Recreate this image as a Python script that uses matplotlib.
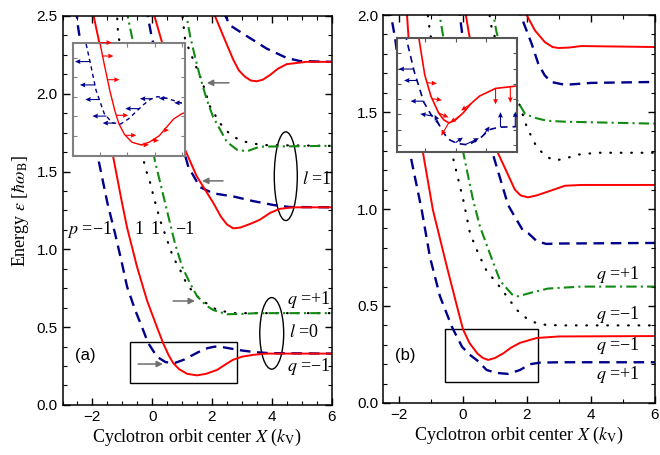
import numpy as np
import matplotlib
matplotlib.use('Agg')
import matplotlib.pyplot as plt
from matplotlib.patches import Ellipse, Rectangle
from matplotlib.ticker import MultipleLocator

plt.rcParams['font.family'] = ['Liberation Sans', 'DejaVu Sans']
plt.rcParams['mathtext.fontset'] = 'stix'

# ---- panel (a) curves: X, energy ----
a_blue0_x = [-2.55, -2.48, -1.78, -1.5, -1.24, -1.01, -0.84, -0.57, -0.34, -0.14, 0.16, 0.45, 0.76, 1.05, 1.3, 1.6, 1.85, 2.1, 2.4, 2.7, 3.0, 3.4, 3.9, 6.0]
a_blue0_e = [2.55, 2.43, 1.56, 1.30, 1.10, 0.91, 0.76, 0.61, 0.50, 0.40, 0.31, 0.275, 0.27, 0.29, 0.315, 0.345, 0.365, 0.375, 0.37, 0.36, 0.35, 0.34, 0.333, 0.33]
a_red0_x = [-2.02, -1.97, -1.77, -1.30, -1.01, -0.84, -0.51, -0.17, 0.16, 0.36, 0.55, 0.7, 0.9, 1.17, 1.5, 1.8, 2.17, 2.45, 2.7, 3.0, 3.38, 3.8, 6.0]
a_red0_e = [2.56, 2.51, 2.33, 1.59, 1.30, 1.14, 0.89, 0.67, 0.50, 0.40, 0.32, 0.27, 0.23, 0.20, 0.19, 0.20, 0.225, 0.26, 0.29, 0.31, 0.322, 0.33, 0.33]
a_black0_x = [-1.2, -1.17, -1.14, -0.24, -0.14, -0.02, 0.04, 0.15, 0.26, 0.5, 0.7, 0.93, 1.1, 1.26, 1.6, 2.17, 2.7, 3.2, 6.0]
a_black0_e = [2.55, 2.49, 2.38, 1.53, 1.47, 1.40, 1.34, 1.27, 1.19, 1.06, 0.95, 0.87, 0.80, 0.75, 0.68, 0.61, 0.59, 0.59, 0.59]
a_green0_x = [-0.84, -0.81, -0.67, 0.09, 0.43, 0.76, 1.0, 1.27, 1.5, 1.8, 2.04, 2.5, 3.0, 3.5, 6.0]
a_green0_e = [2.55, 2.49, 2.36, 1.57, 1.30, 1.04, 0.89, 0.78, 0.70, 0.64, 0.61, 0.583, 0.585, 0.59, 0.59]

a_blue1_x = [-0.18, -0.14, 0.0, 1.21, 1.6, 2.04, 2.71, 3.38, 4.05, 4.6, 6.0]
a_blue1_e = [2.56, 2.49, 2.35, 1.53, 1.40, 1.36, 1.34, 1.31, 1.285, 1.272, 1.27]
a_red1_x = [0.06, 0.09, 0.33, 1.1, 1.49, 2.04, 2.3, 2.5, 2.71, 2.95, 3.3, 3.6, 3.95, 4.27, 4.7, 6.0]
a_red1_e = [2.56, 2.49, 2.33, 1.64, 1.47, 1.30, 1.21, 1.16, 1.135, 1.14, 1.165, 1.19, 1.235, 1.26, 1.27, 1.27]
a_black1_x = [0.98, 1.02, 1.1, 1.37, 1.67, 1.93, 2.27, 2.6, 2.94, 3.34, 3.8, 6.0]
a_black1_e = [2.56, 2.49, 2.35, 2.22, 2.08, 1.92, 1.81, 1.74, 1.70, 1.68, 1.67, 1.665]
a_green1_x = [1.1, 1.16, 1.27, 1.43, 1.6, 1.83, 2.04, 2.27, 2.5, 2.84, 3.17, 3.6, 6.0]
a_green1_e = [2.56, 2.49, 2.37, 2.24, 2.11, 1.96, 1.85, 1.77, 1.69, 1.64, 1.63, 1.66, 1.665]

a_red2_x = [2.07, 2.1, 2.38, 2.71, 2.9, 3.1, 3.3, 3.49, 3.7, 3.94, 4.2, 4.5, 5.17, 6.0]
a_red2_e = [2.56, 2.5, 2.37, 2.22, 2.15, 2.11, 2.085, 2.08, 2.09, 2.12, 2.16, 2.19, 2.205, 2.205]
a_blue2_x = [2.4, 2.45, 2.6, 3.17, 3.83, 4.5, 4.94, 6.0]
a_blue2_e = [2.53, 2.5, 2.44, 2.37, 2.29, 2.23, 2.21, 2.205]

# ---- panel (b) curves ----
b_blue0_x = [-2.3, -2.22, -2.12, -1.66, -1.29, -1.03, -0.72, -0.34, -0.03, 0.2, 0.44, 0.74, 1.05, 1.41, 1.78, 2.1, 2.4, 3.0, 6.0]
b_blue0_e = [2.05, 1.97, 1.88, 1.29, 0.995, 0.75, 0.55, 0.39, 0.29, 0.25, 0.22, 0.17, 0.155, 0.15, 0.17, 0.20, 0.208, 0.21, 0.21]
b_red0_x = [-1.81, -1.75, -1.7, -1.25, -0.94, -0.5, -0.19, 0.0, 0.2, 0.45, 0.62, 0.79, 1.0, 1.26, 1.5, 1.78, 2.3, 3.0, 6.0]
b_red0_e = [2.05, 2.0, 1.88, 1.29, 0.995, 0.70, 0.50, 0.38, 0.31, 0.255, 0.232, 0.222, 0.232, 0.256, 0.285, 0.31, 0.335, 0.343, 0.345]
b_black0_x = [-1.15, -1.1, -1.03, -0.35, 0.01, 0.22, 0.48, 0.74, 1.05, 1.37, 1.68, 2.03, 2.4, 3.0, 6.0]
b_black0_e = [2.05, 2.0, 1.91, 1.29, 1.046, 0.875, 0.77, 0.68, 0.62, 0.55, 0.48, 0.43, 0.405, 0.40, 0.40]
b_green0_x = [-0.75, -0.72, -0.62, 0.01, 0.31, 0.53, 0.84, 1.16, 1.53, 1.72, 2.16, 2.66, 3.7, 6.0]
b_green0_e = [2.05, 1.99, 1.89, 1.29, 1.05, 0.91, 0.77, 0.63, 0.56, 0.55, 0.57, 0.59, 0.60, 0.60]

b_blue1_x = [-0.15, -0.1, -0.03, 0.94, 1.41, 1.62, 1.87, 2.04, 2.3, 2.6, 3.0, 6.0]
b_blue1_e = [2.05, 2.0, 1.91, 1.28, 1.02, 0.96, 0.89, 0.875, 0.835, 0.82, 0.822, 0.825]
b_red1_x = [0.06, 0.09, 0.19, 1.06, 1.37, 1.62, 1.8, 2.03, 2.3, 2.66, 3.19, 3.7, 6.0]
b_red1_e = [2.05, 2.0, 1.90, 1.30, 1.19, 1.10, 1.07, 1.06, 1.07, 1.09, 1.12, 1.124, 1.124]
b_black1_x = [0.78, 0.83, 0.9, 1.72, 2.0, 2.3, 2.6, 2.87, 3.2, 3.56, 4.2, 6.0]
b_black1_e = [2.05, 2.0, 1.93, 1.56, 1.42, 1.32, 1.27, 1.25, 1.26, 1.28, 1.29, 1.29]
b_green1_x = [0.9, 0.95, 1.05, 1.62, 1.94, 2.25, 2.62, 3.19, 6.0]
b_green1_e = [2.05, 2.0, 1.91, 1.58, 1.49, 1.47, 1.455, 1.45, 1.44]

b_blue2_x = [1.7, 1.8, 2.15, 2.35, 2.55, 2.75, 3.19, 4.0, 6.0]
b_blue2_e = [2.05, 2.0, 1.85, 1.75, 1.69, 1.655, 1.64, 1.65, 1.655]
b_red2_x = [1.97, 1.99, 2.25, 2.56, 2.8, 2.98, 3.3, 3.7, 6.0]
b_red2_e = [2.05, 2.0, 1.92, 1.86, 1.835, 1.83, 1.832, 1.84, 1.835]

# spin arrows in the insets (X on curve, angle in deg, length in inches)
a_red_arrow_x = [0.0, 0.1, 0.28, 0.6, 0.93, 1.5, 1.9, 2.34]
a_red_arrow_len = [0.12, 0.11, 0.12, 0.12, 0.11, 0.08, 0.07, 0.05]
a_blue_arrow_x = [-0.36, -0.18, -0.02, 0.24, 0.54, 1.44, 1.9, 2.45, 2.97]
a_blue_arrow_len = [0.15, 0.15, 0.14, 0.14, 0.12, 0.14, 0.12, 0.08, 0.07]

b_red_arrow_x = [0.075, 0.24, 0.45, 0.78, 1.15, 1.5, 2.3, 2.78]
b_red_arrow_ang = [-5, -8, -25, -120, -145, -145, -90, -90]
b_red_arrow_len = [0.10, 0.10, 0.11, 0.15, 0.12, 0.12, 0.16, 0.16]
b_blue_arrow_x = [-0.36, -0.25, -0.04, 0.24, 0.5, 1.0, 1.32, 1.9, 2.46, 2.94]
b_blue_arrow_ang = [180, 180, 180, 170, 115, 35, 25, 55, 90, 90]
b_blue_arrow_len = [0.15, 0.13, 0.13, 0.12, 0.13, 0.09, 0.15, 0.11, 0.15, 0.15]

RED = '#ff0000'
BLUE = '#00008b'
GREEN = '#138a13'
styles = {
    'red': dict(color=RED, ls='-', lw=1.4),
    'blue': dict(color=BLUE, ls=(0, (4.5, 2.8)), lw=1.7),
    'green': dict(color=GREEN, ls=(0, (5, 2, 1, 2)), lw=1.5),
    'black': dict(color='k', ls=(0, (0.3, 4.4)), lw=1.6, dash_capstyle='round'),
}

fig = plt.figure(figsize=(6.6, 4.55), dpi=100)
axa = fig.add_axes([0.0947, 0.110, 0.4076, 0.855])
axb = fig.add_axes([0.5803, 0.1143, 0.4121, 0.8527])

curves_a = [(a_blue0_x, a_blue0_e, 'blue'), (a_red0_x, a_red0_e, 'red'),
            (a_black0_x, a_black0_e, 'black'), (a_green0_x, a_green0_e, 'green'),
            (a_blue1_x, a_blue1_e, 'blue'), (a_red1_x, a_red1_e, 'red'),
            (a_black1_x, a_black1_e, 'black'), (a_green1_x, a_green1_e, 'green'),
            (a_blue2_x, a_blue2_e, 'blue'), (a_red2_x, a_red2_e, 'red')]
curves_b = [(b_blue0_x, b_blue0_e, 'blue'), (b_red0_x, b_red0_e, 'red'),
            (b_black0_x, b_black0_e, 'black'), (b_green0_x, b_green0_e, 'green'),
            (b_blue1_x, b_blue1_e, 'blue'), (b_red1_x, b_red1_e, 'red'),
            (b_black1_x, b_black1_e, 'black'), (b_green1_x, b_green1_e, 'green'),
            (b_blue2_x, b_blue2_e, 'blue'), (b_red2_x, b_red2_e, 'red')]

for x, e, s in curves_a:
    axa.plot(x, e, **styles[s])
for x, e, s in curves_b:
    axb.plot(x, e, **styles[s])

axa.set_xlim(-3, 6)
axa.set_ylim(0, 2.5)
axb.set_xlim(-2.5, 6)
axb.set_ylim(0, 2.0)

for ax in (axa, axb):
    ax.xaxis.set_major_locator(MultipleLocator(2))
    ax.yaxis.set_major_locator(MultipleLocator(0.5))
    ax.tick_params(which='both', direction='in', top=True, right=True, labelsize=11)
    ax.tick_params(which='major', length=5, width=1)
    ax.tick_params(which='minor', length=3, width=0.8)
    for sp in ax.spines.values():
        sp.set_linewidth(1.1)
    ax.set_xlabel('Cyclotron orbit center $X$ ($k_{\\rm V}$)', family='Liberation Serif',
                  fontsize=13, labelpad=2)
    ax.yaxis.set_major_formatter(matplotlib.ticker.FormatStrFormatter('%.1f'))
axa.xaxis.set_minor_locator(MultipleLocator(0.5))
axa.yaxis.set_minor_locator(MultipleLocator(0.125))
axb.xaxis.set_minor_locator(MultipleLocator(1))
axb.yaxis.set_minor_locator(MultipleLocator(0.1))
axa.set_ylabel('Energy $\\varepsilon$ [$\\hbar\\omega_{\\rm B}$]', family='Liberation Serif',
               fontsize=13, labelpad=4)

serif = dict(family='Liberation Serif', fontsize=13)

# panel (a) annotations
axa.add_patch(Ellipse((4.47, 1.47), 0.77, 0.57, fill=False, lw=1, ec='k'))
axa.add_patch(Ellipse((4.0, 0.46), 0.8, 0.46, fill=False, lw=1, ec='k'))
axa.text(5.0, 1.446, '$l$ =1', va='center', **serif)
axa.text(4.5, 0.675, '$q$ =+1', va='center', **serif)
axa.text(4.58, 0.463, '$l$ =0', va='center', **serif)
axa.text(4.5, 0.244, '$q$ =\u22121', va='center', **serif)
axa.text(-2.85, 1.13, '$p$ =\u22121', va='center', **serif)
axa.text(-0.44, 1.13, '1', va='center', ha='center', **serif)
axa.text(0.09, 1.13, '1', va='center', ha='center', **serif)
axa.text(0.76, 1.13, '\u22121', va='center', **serif)
axa.text(-2.24, 0.32, '(a)', va='center', ha='center', fontsize=12)
axa.add_patch(Rectangle((-0.74, 0.141), 3.58, 0.264, fill=False, lw=1, ec='k'))

gray_arrows = [((2.57, 2.07), (1.83, 2.07)), ((2.37, 1.44), (1.67, 1.44)),
               ((0.70, 0.668), (1.43, 0.668)), ((-0.47, 0.263), (0.36, 0.263))]
for tail, head in gray_arrows:
    axa.annotate('', xy=head, xytext=tail,
                 arrowprops=dict(arrowstyle='-|>', color='#6e6e6e', lw=1.1, mutation_scale=9,
                                 shrinkA=0, shrinkB=0))

# panel (b) annotations
axb.text(5.53, 0.66, '$q$ =+1', va='center', ha='right', **serif)
axb.text(5.53, 0.454, '$q$ =\u22121', va='center', ha='right', **serif)
axb.text(5.53, 0.294, '$q$ =\u22121', va='center', ha='right', **serif)
axb.text(5.53, 0.149, '$q$ =+1', va='center', ha='right', **serif)
axb.text(-1.81, 0.247, '(b)', va='center', ha='center', fontsize=12)
axb.add_patch(Rectangle((-0.56, 0.108), 2.9, 0.272, fill=False, lw=1, ec='k'))


def spin_arrows(ax, xs, ys, angles, lengths, color):
    ang = np.radians(angles)
    u = np.array(lengths) * np.cos(ang)
    v = np.array(lengths) * np.sin(ang)
    ax.quiver(xs, ys, u, v, angles='uv', scale_units='inches', scale=1, units='inches',
              width=0.011, headwidth=4.5, headlength=5, headaxislength=4.5, color=color,
              zorder=5, clip_on=False)


def setup_inset(ax, edge):
    ax.set_facecolor('white')
    ax.tick_params(which='both', direction='in', top=True, right=True, length=3,
                   width=0.8, labelbottom=False, labelleft=False, color=edge)
    for sp in ax.spines.values():
        sp.set_color(edge)
        sp.set_linewidth(1.5)


# inset of panel (a)
ina = fig.add_axes([0.111, 0.657, 0.169, 0.248])
setup_inset(ina, '#808080')
ina.plot(a_red0_x, a_red0_e, color=RED, lw=1.0)
ina.plot(a_blue0_x, a_blue0_e, color=BLUE, lw=1.0, ls=(0, (3, 2.5)))
ina.set_xlim(-0.97, 3.1)
ina.set_ylim(0.147, 0.58)
ina.xaxis.set_major_locator(MultipleLocator(1))
ina.yaxis.set_major_locator(MultipleLocator(0.075))
spin_arrows(ina, a_red_arrow_x, np.interp(a_red_arrow_x, a_red0_x, a_red0_e),
            [0] * len(a_red_arrow_x), a_red_arrow_len, RED)
spin_arrows(ina, a_blue_arrow_x, np.interp(a_blue_arrow_x, a_blue0_x, a_blue0_e),
            [180] * len(a_blue_arrow_x), a_blue_arrow_len, BLUE)

# inset of panel (b)
inb = fig.add_axes([0.6015, 0.666, 0.182, 0.2505])
setup_inset(inb, '#555555')
inb.plot(b_red0_x, b_red0_e, color=RED, lw=1.2)
inb.plot(b_blue0_x, b_blue0_e, color=BLUE, lw=1.2, ls=(0, (4, 3)))
inb.set_xlim(-0.9, 3.0)
inb.set_ylim(0.127, 0.50)
inb.xaxis.set_major_locator(MultipleLocator(1))
inb.yaxis.set_major_locator(MultipleLocator(0.05))
spin_arrows(inb, b_red_arrow_x, np.interp(b_red_arrow_x, b_red0_x, b_red0_e),
            b_red_arrow_ang, b_red_arrow_len, RED)
spin_arrows(inb, b_blue_arrow_x, np.interp(b_blue_arrow_x, b_blue0_x, b_blue0_e),
            b_blue_arrow_ang, b_blue_arrow_len, BLUE)

fig.savefig('out.png', dpi=100)
